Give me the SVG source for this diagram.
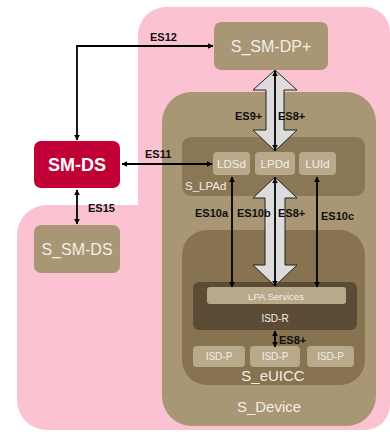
<svg xmlns="http://www.w3.org/2000/svg" width="390" height="432" viewBox="0 0 390 432">
<style>
text{font-family:"Liberation Sans",Arial,sans-serif}
.lbl{font-size:11px;font-weight:bold;fill:#111}
.wt{fill:#F3EEE6}
.sm{fill:#B9A98B}
.ln{stroke:#000;stroke-width:1.8;fill:none;marker-start:url(#ah);marker-end:url(#ah)}
.big{fill:#DCDCDC;stroke:#222;stroke-width:1}
</style>
<defs>
<marker id="ah" viewBox="0 0 10 10" refX="9" refY="5" markerWidth="6" markerHeight="6" orient="auto-start-reverse" markerUnits="userSpaceOnUse">
<path d="M0,0 L10,5 L0,10 z" fill="#000"/>
</marker>
</defs>
<rect width="390" height="432" fill="#fff"/>
<path d="M138,35 A28,28 0 0 1 166,7 H365 A25,25 0 0 1 390,32 V405 A25,25 0 0 1 365,430 H47 A30,30 0 0 1 17,400 V235 A30,30 0 0 1 47,205 H138 Z" fill="#FBC2D1"/>

<g id="s_device">
<rect x="162" y="92" width="214" height="334" rx="30" fill="#A99674"/>
<text x="269" y="412" font-size="15" text-anchor="middle" class="wt">S_Device</text>
</g>
<g id="s_lpad">
<rect x="182" y="137" width="183" height="59" rx="9" fill="#8A7755"/>
<text x="185" y="190" font-size="11.5" class="wt">S_LPAd</text>
</g>
<g id="ldsd"><rect x="213" y="152" width="37" height="23" rx="4" class="sm"/><text x="231.5" y="168" font-size="11.5" text-anchor="middle" class="wt">LDSd</text></g>
<g id="lpdd"><rect x="255" y="152" width="40" height="23" rx="4" class="sm"/><text x="275" y="168" font-size="11.5" text-anchor="middle" class="wt">LPDd</text></g>
<g id="luid"><rect x="299" y="152" width="37" height="23" rx="4" class="sm"/><text x="317.5" y="168" font-size="11.5" text-anchor="middle" class="wt">LUId</text></g>
<g id="s_euicc">
<rect x="182" y="230" width="183" height="155" rx="25" fill="#87734F"/>
<text x="273" y="381" font-size="15" text-anchor="middle" class="wt">S_eUICC</text>
</g>
<g id="isd_r">
<rect x="193" y="282" width="164" height="48" rx="6" fill="#5C4C35"/>
<text x="275" y="322" font-size="10" text-anchor="middle" class="wt">ISD-R</text>
</g>
<g id="lpa_services"><rect x="207" y="287" width="139" height="17" rx="3" class="sm"/><text x="276" y="299.5" font-size="9.5" text-anchor="middle" class="wt">LPA Services</text></g>
<g id="isdp1"><rect x="193" y="346" width="52" height="21" rx="4" class="sm"/><text x="219" y="360" font-size="10" text-anchor="middle" class="wt">ISD-P</text></g>
<g id="isdp2"><rect x="250" y="346" width="50" height="21" rx="4" class="sm"/><text x="275" y="360" font-size="10" text-anchor="middle" class="wt">ISD-P</text></g>
<g id="isdp3"><rect x="307" y="346" width="47" height="21" rx="4" class="sm"/><text x="330.5" y="360" font-size="10" text-anchor="middle" class="wt">ISD-P</text></g>

<g id="s_sm_dp">
<rect x="214" y="22" width="114" height="48" rx="7" fill="#A99674"/>
<text x="271" y="52" font-size="16" text-anchor="middle" class="wt">S_SM-DP+</text>
</g>
<g id="sm_ds">
<rect x="34" y="141" width="86" height="47" rx="7" fill="#C10036"/>
<text x="77" y="171" font-size="18" font-weight="bold" text-anchor="middle" fill="#fff">SM-DS</text>
</g>
<g id="s_sm_ds">
<rect x="34" y="225" width="86" height="48" rx="7" fill="#A99674"/>
<text x="77" y="255" font-size="16" text-anchor="middle" class="wt">S_SM-DS</text>
</g>

<g id="connectors">
<polygon class="big" points="275,70 297,90 284,90 284,130 297,130 275,151 253,130 266,130 266,90 253,90"/>
<polygon class="big" points="275,177 297,198 285,198 285,265 297,265 275,286 253,265 265,265 265,198 253,198"/>
<line class="ln" x1="275" y1="71" x2="275" y2="150"/>
<line class="ln" x1="275" y1="178" x2="275" y2="286"/>
<polyline class="ln" points="77,140 77,46 213,46"/>
<line class="ln" x1="122" y1="164" x2="212" y2="164"/>
<line class="ln" x1="77" y1="190" x2="77" y2="224"/>
<line class="ln" x1="232" y1="177" x2="232" y2="287"/>
<line class="ln" x1="317" y1="177" x2="317" y2="287"/>
<line class="ln" x1="275" y1="331" x2="275" y2="347"/>
</g>
<g id="labels">
<text x="150" y="41" class="lbl">ES12</text>
<text x="145" y="158" class="lbl">ES11</text>
<text x="88" y="212" class="lbl">ES15</text>
<text x="235" y="120" class="lbl">ES9+</text>
<text x="278" y="120" class="lbl">ES8+</text>
<text x="195" y="217" class="lbl">ES10a</text>
<text x="237" y="217" class="lbl">ES10b</text>
<text x="278" y="217" class="lbl">ES8+</text>
<text x="321" y="220" class="lbl">ES10c</text>
<text x="279" y="344" class="lbl">ES8+</text>
</g>
</svg>
